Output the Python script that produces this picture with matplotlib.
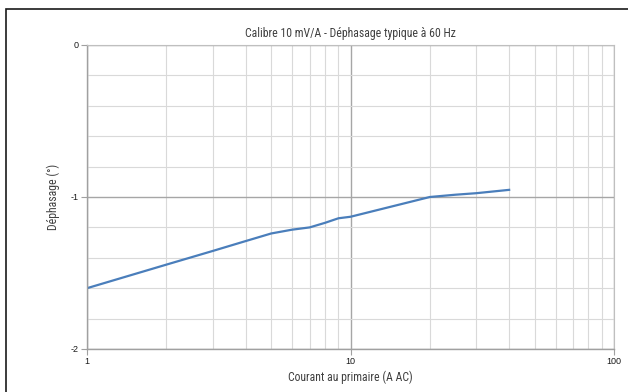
import numpy as np
import matplotlib
matplotlib.use('Agg')
import matplotlib.pyplot as plt
from matplotlib.patches import Rectangle
from matplotlib.ticker import FixedLocator, NullFormatter
from matplotlib import font_manager

# Data
courant = [1, 2, 3, 4, 5, 6, 7, 8, 9, 10, 20, 25, 30, 40]
dephasage = [-1.60, -1.445, -1.355, -1.29, -1.24, -1.215, -1.20, -1.17, -1.14, -1.13,
             -1.00, -0.985, -0.975, -0.953]

title = 'Calibre 10 mV/A - Déphasage typique à 60 Hz'
xlabel = 'Courant au primaire (A AC)'
ylabel = 'Déphasage (°)'

# prefer a condensed face if one happens to be installed
names = {f.name for f in font_manager.fontManager.ttflist}
family = [n for n in ('Liberation Sans Narrow', 'Roboto Condensed', 'Open Sans Condensed')
          if n in names] + ['Liberation Sans', 'DejaVu Sans']
plt.rcParams['font.family'] = family
label_size = 8.5 if family[0] != 'Liberation Sans' else 7.5

fig = plt.figure(figsize=(6.28, 3.92), dpi=100)
W, H = 628, 392
ax = fig.add_axes([87 / W, 1 - 349 / H, (614 - 87) / W, (349 - 45) / H])

ax.set_xscale('log')
ax.set_xlim(1, 100)
ax.set_ylim(-2, 0)

# grid
ax.xaxis.set_minor_locator(FixedLocator([k * 10 ** e for e in (0, 1) for k in range(2, 10)]))
ax.xaxis.set_minor_formatter(NullFormatter())
ax.set_xticks([1, 10, 100])
ax.set_xticklabels(['1', '10', '100'])
ax.set_yticks([0, -1, -2])
ax.set_yticklabels(['0', '-1', '-2'])
ax.yaxis.set_minor_locator(FixedLocator(np.arange(-1.8, 0, 0.2)))
ax.grid(which='minor', color='#d9d9d9', linewidth=0.8)
ax.grid(which='major', color='#a6a6a6', linewidth=1.0)
ax.set_axisbelow(True)

for s in ('top', 'right'):
    ax.spines[s].set_color('#bfbfbf')
    ax.spines[s].set_linewidth(0.8)
for s in ('left', 'bottom'):
    ax.spines[s].set_color('#a0a0a0')
    ax.spines[s].set_linewidth(1.0)

ax.tick_params(which='major', direction='out', length=4, color='#a0a0a0',
               labelsize=6.5, labelcolor='#1a1a1a', pad=2)
ax.tick_params(which='minor', length=0)
for lab in ax.get_xticklabels() + ax.get_yticklabels():
    lab.set_family(['Liberation Sans', 'DejaVu Sans'])

ax.plot(courant, dephasage, color='#4a7ebb', linewidth=1.6)

ax.set_title(title, fontsize=label_size, color='#404040', pad=6)
ax.set_xlabel(xlabel, fontsize=label_size, color='#404040', labelpad=3)
ax.set_ylabel(ylabel, fontsize=label_size, color='#404040', labelpad=8)

fig.patches.append(Rectangle((6 / W, -0.05), 1.1, 1 - 9 / H + 0.05,
                             transform=fig.transFigure, fill=False,
                             edgecolor='#1a1a1a', linewidth=1.2))

fig.savefig('out.png', dpi=100)
